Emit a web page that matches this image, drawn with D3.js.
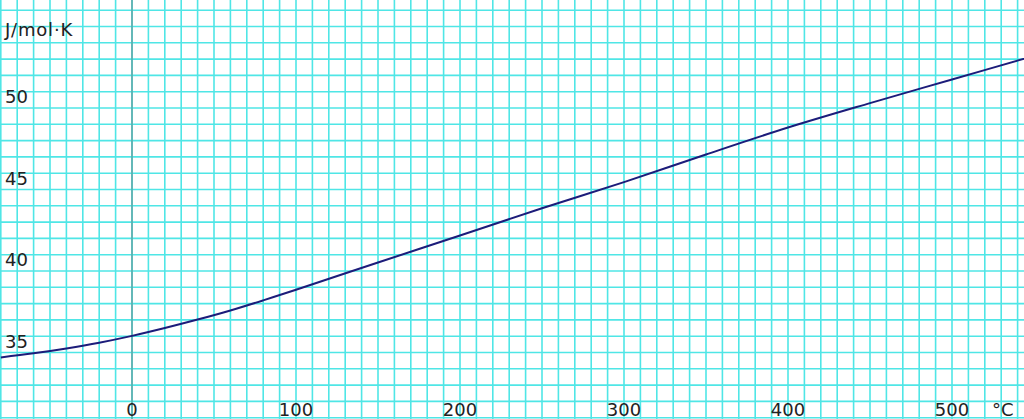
<!DOCTYPE html>
<html>
<head>
<meta charset="utf-8">
<script src="https://cdn.jsdelivr.net/npm/d3@7"></script>
<style>
  html, body { margin: 0; padding: 0; background: #fff; }
  svg { display: block; }
  text { font-family: "DejaVu Sans", Verdana, sans-serif; fill: #222; }
</style>
</head>
<body>
<svg id="chart" width="1024" height="419"></svg>
<script>
// Data: heat capacity (J/mol·K) vs temperature (°C)
const temperatures = [-80, -60, -40, -20, 0, 20, 40, 60, 80, 100, 150, 200, 250, 300, 350, 400, 450, 500, 550];
const heatCapacity = [33.7, 33.95, 34.25, 34.6, 35.02, 35.5, 36.02, 36.58, 37.2, 37.85, 39.52, 41.18, 42.85, 44.45, 46.15, 47.8, 49.3, 50.75, 52.2];

const xTickLabels = [0, 100, 200, 300, 400, 500];
const yTickLabels = [35, 40, 45, 50];
const xUnit = "°C";
const yUnit = "J/mol·K";

const W = 1024, H = 419;
const svg = d3.select("#chart");

const x = d3.scaleLinear().domain([-132 / 1.64, (W - 132) / 1.64]).range([0, W]);
const y = d3.scaleLinear().domain([50 - (H - 91.7) / 16.3, 50 + 91.7 / 16.3]).range([H, 0]);

const grid = svg.append("g");
const xGrid = d3.range(-80, 550, 10);
const yGrid = d3.range(30, 56, 1);

grid.selectAll("line.v").data(xGrid).join("line")
  .attr("x1", d => x(d)).attr("x2", d => x(d))
  .attr("y1", 0).attr("y2", H)
  .attr("stroke", "#4fe6e6").attr("stroke-width", 1.6);

grid.selectAll("line.h").data(yGrid).join("line")
  .attr("y1", d => y(d)).attr("y2", d => y(d))
  .attr("x1", 0).attr("x2", W)
  .attr("stroke", "#4fe6e6").attr("stroke-width", 1.6);

// vertical axis at 0 °C
svg.append("line")
  .attr("x1", x(0)).attr("x2", x(0)).attr("y1", 0).attr("y2", H)
  .attr("stroke", "#5c9c9c").attr("stroke-width", 1.3);

// curve
const pts = temperatures.map((t, i) => [t, heatCapacity[i]]);
svg.append("path")
  .datum(pts)
  .attr("fill", "none")
  .attr("stroke", "#1c1c7a")
  .attr("stroke-width", 2)
  .attr("d", d3.line().x(d => x(d[0])).y(d => y(d[1])).curve(d3.curveCatmullRom.alpha(0.5)));

// labels
svg.selectAll("text.yl").data(yTickLabels).join("text")
  .attr("x", 5).attr("y", d => y(d) + 11.5)
  .attr("font-size", 18)
  .text(d => d);

svg.selectAll("text.xl").data(xTickLabels).join("text")
  .attr("x", d => x(d)).attr("y", 416)
  .attr("text-anchor", "middle")
  .attr("font-size", 18)
  .text(d => d);

svg.append("text").attr("x", 992).attr("y", 416).attr("font-size", 18).text(xUnit);
svg.append("text").attr("x", 5).attr("y", 36).attr("font-size", 18).attr("letter-spacing", 0.8).text(yUnit);
</script>
</body>
</html>
